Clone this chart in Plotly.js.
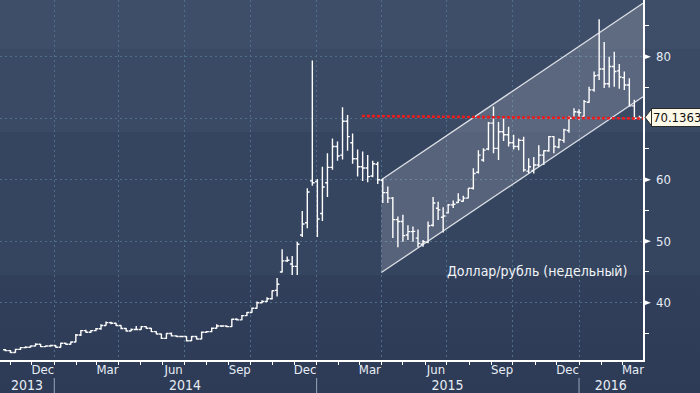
<!DOCTYPE html>
<html><head><meta charset="utf-8">
<script src="https://cdn.plot.ly/plotly-3.0.1.min.js"></script>
<style>
html,body{margin:0;padding:0;width:700px;height:393px;overflow:hidden;}
body{background:linear-gradient(to bottom,#3f4e68 0px,#3f4e68 49px,#3a4964 49px,#3a4964 132px,#35445f 132px,#35445f 275px,#313f5a 275px,#2e3b56 393px);}
#chart{width:700px;height:393px;}
</style></head><body><div id="chart"></div>
<script>
// ---- data (weekly USD/RUB bars) ----
const weekDates = [
'2013-10-25','2013-11-01','2013-11-08','2013-11-15','2013-11-22','2013-11-29','2013-12-06','2013-12-13','2013-12-20','2013-12-27',
'2014-01-03','2014-01-10','2014-01-17','2014-01-24','2014-01-31','2014-02-07','2014-02-14','2014-02-21','2014-02-28','2014-03-07',
'2014-03-14','2014-03-21','2014-03-28','2014-04-04','2014-04-11','2014-04-18','2014-04-25','2014-05-02','2014-05-09','2014-05-16',
'2014-05-23','2014-05-30','2014-06-06','2014-06-13','2014-06-20','2014-06-27','2014-07-04','2014-07-11','2014-07-18','2014-07-25',
'2014-08-01','2014-08-08','2014-08-15','2014-08-22','2014-08-29','2014-09-05','2014-09-12','2014-09-19','2014-09-26','2014-10-03',
'2014-10-10','2014-10-17','2014-10-24','2014-10-31','2014-11-07','2014-11-14','2014-11-21','2014-11-28','2014-12-05','2014-12-12',
'2014-12-19','2014-12-26','2015-01-02','2015-01-09','2015-01-16','2015-01-23','2015-01-30','2015-02-06','2015-02-13','2015-02-20',
'2015-02-27','2015-03-06','2015-03-13','2015-03-20','2015-03-27','2015-04-03','2015-04-10','2015-04-17','2015-04-24','2015-05-01',
'2015-05-08','2015-05-15','2015-05-22','2015-05-29','2015-06-05','2015-06-12','2015-06-19','2015-06-26','2015-07-03','2015-07-10',
'2015-07-17','2015-07-24','2015-07-31','2015-08-07','2015-08-14','2015-08-21','2015-08-28','2015-09-04','2015-09-11','2015-09-18',
'2015-09-25','2015-10-02','2015-10-09','2015-10-16','2015-10-23','2015-10-30','2015-11-06','2015-11-13','2015-11-20','2015-11-27',
'2015-12-04','2015-12-11','2015-12-18','2015-12-25','2016-01-01','2016-01-08','2016-01-15','2016-01-22','2016-01-29','2016-02-05',
'2016-02-12','2016-02-19','2016-02-26','2016-03-04','2016-03-11','2016-03-18','2016-03-25'];
const openVals = [
32.35,32.2,31.9,32.4,32.7,32.75,32.95,33.25,32.85,32.95,
33.05,32.75,33.4,33.25,33.6,34.75,35.45,35.2,35.45,35.75,
36.3,36.75,36.65,36.3,35.8,35.4,35.65,35.65,36.1,35.85,
35.3,34.9,34.2,35.0,34.6,34.5,34.5,33.8,34.5,34.1,
35.2,35.3,35.85,36.2,36.2,36.1,37.3,37.2,37.9,38.4,
39.1,40.0,40.2,40.65,42.0,45.0,46.8,46.3,45.9,51.0,
53.0,59.8,59.7,54.5,59.5,62.0,65.4,64.0,69.5,66.0,
63.4,62.1,61.9,60.6,62.5,59.9,57.9,57.0,53.5,53.2,
51.0,51.55,50.5,49.5,49.8,52.6,55.35,53.9,54.6,55.9,
56.3,56.5,57.0,58.6,61.2,63.2,65.0,69.2,65.1,67.8,
67.3,66.0,65.4,66.4,61.4,61.5,62.4,64.0,64.7,67.0,
65.3,66.4,68.0,70.0,71.0,70.3,72.6,74.6,77.0,78.0,
75.6,78.4,77.7,76.6,75.4,72.0,70.0];
const highVals = [
32.45,32.3,32.5,32.8,32.9,33.05,33.4,33.3,33.05,33.15,
33.1,33.5,33.5,33.7,34.9,35.55,35.6,35.55,35.9,36.5,
36.95,36.9,36.75,36.35,35.9,35.8,36.2,36.2,36.15,35.9,
35.35,34.95,35.05,35.15,34.7,34.6,34.55,34.6,34.55,35.3,
35.4,35.95,36.5,36.35,36.3,37.4,37.45,38.0,38.5,39.2,
40.2,40.4,40.9,42.0,44.0,48.7,47.5,47.6,49.9,54.9,
58.6,79.4,60.1,62.1,64.3,66.7,66.2,71.8,70.5,67.5,
64.9,64.6,64.0,63.1,62.9,60.2,58.9,57.2,54.0,54.3,
52.6,52.4,51.9,50.2,53.2,57.2,56.4,55.5,56.05,56.6,
57.8,57.4,58.6,61.85,64.8,65.1,69.4,71.9,69.4,70.0,
68.6,67.3,66.7,67.0,63.5,63.7,65.6,64.8,67.1,67.1,
66.7,68.3,70.35,71.6,71.45,72.95,75.1,77.6,86.1,82.4,
80.0,80.8,78.8,77.6,76.5,73.0,70.4];
const lowVals = [
32.1,31.8,31.85,32.3,32.6,32.7,32.9,32.8,32.8,32.85,
32.7,32.7,33.15,33.2,33.55,34.6,35.1,35.1,35.35,35.6,
36.25,36.5,36.2,35.7,35.3,35.35,35.6,35.6,35.75,35.25,
34.85,34.1,34.15,34.5,34.4,34.4,33.7,33.75,34.0,34.05,
35.1,35.2,35.8,36.05,36.0,36.05,37.1,37.15,37.85,38.35,
39.05,39.9,40.1,40.5,41.0,44.9,46.6,44.5,44.5,50.7,
52.1,59.0,50.7,53.3,57.2,61.6,63.1,63.3,64.7,62.6,
60.5,59.8,59.6,60.4,59.3,56.2,56.2,50.5,49.0,49.9,
50.2,49.9,49.0,49.1,49.65,52.4,53.45,51.4,54.5,55.4,
56.2,56.4,57.0,58.4,61.0,62.9,64.8,64.3,63.2,66.3,
65.4,64.9,64.8,61.3,61.0,61.0,62.1,62.4,64.55,64.3,
65.1,66.0,67.65,70.0,69.7,70.25,72.5,74.3,76.2,74.9,
75.0,75.1,74.8,74.6,71.9,69.7,69.8];
const closeVals = [
32.2,31.9,32.4,32.7,32.75,32.95,33.25,32.85,32.95,33.05,
32.75,33.4,33.25,33.6,34.75,35.45,35.2,35.45,35.75,36.3,
36.75,36.65,36.3,35.8,35.4,35.65,35.65,36.1,35.85,35.3,
34.9,34.2,35.0,34.6,34.5,34.5,33.8,34.5,34.1,35.2,
35.3,35.85,36.2,36.2,36.1,37.3,37.2,37.9,38.4,39.1,
40.0,40.2,40.65,41.95,43.0,46.8,46.9,45.9,49.5,52.8,
58.0,59.5,53.6,58.8,62.0,65.4,63.85,69.5,67.0,63.4,
62.1,61.9,60.5,62.6,60.0,57.9,57.0,53.5,53.2,50.9,
51.55,51.6,49.65,49.9,52.5,56.2,55.1,54.1,55.9,56.0,
56.7,57.0,58.6,61.0,64.0,64.8,69.2,65.1,67.8,67.3,
66.0,65.4,66.4,61.6,62.1,62.4,64.0,64.7,67.0,65.4,
66.5,68.1,70.0,71.05,70.9,72.7,74.6,76.9,78.0,75.6,
78.4,77.6,76.7,75.4,72.0,70.0,70.1363];

// trend channel and level line
const channelX = ['2015-04-01','2016-03-30'];
const channelUpper = [60.0, 88.7];
const channelLower = [44.9, 73.5];
const levelX = ['2015-03-05','2016-03-30'];
const levelY = [70.35, 69.95];
const lastPrice = 70.1363;
const lastPriceText = '70.1363';
const seriesLabel = 'Доллар/рубль (недельный)';

// axes
const xRange = ['2013-10-17 12:00','2016-03-30'];
const yRange = [30.68, 89.22];
const monthLabelPos = ['2013-12-16','2014-03-16','2014-06-16','2014-09-16','2014-12-16','2015-03-16','2015-06-16','2015-09-16','2015-12-16','2016-03-16'];
const monthLabels = ['Dec','Mar','Jun','Sep','Dec','Mar','Jun','Sep','Dec','Mar'];
const yearLabelPos = ['2013-11-24','2014-07-02','2015-07-02','2016-02-14'];
const yearLabels = ['2013','2014','2015','2016'];
const yearBounds = ['2014-01-01','2015-01-01','2016-01-01'];
const yTickVals = [40,50,60,70,80];
const yTickText = ['40','50','60','','80'];
const yMinorVals = [35,45,55,65,75,85];

const FONT = '"DejaVu Sans Condensed", "Liberation Sans", Arial, sans-serif';
const NARROW = '"Liberation Sans Narrow", "DejaVu Sans Condensed", "Liberation Sans", sans-serif';
const TXT = '#e6edf5';
const GRID = '#4f6e8a';

const traces = [
  {type:'scatter', mode:'lines', x:[channelX[0],channelX[1],channelX[1],channelX[0],channelX[0]],
   y:[channelUpper[0],channelUpper[1],channelLower[1],channelLower[0],channelUpper[0]],
   fill:'toself', fillcolor:'rgba(255,255,255,0.17)', line:{width:0}, hoverinfo:'skip', showlegend:false},
  {type:'scatter', mode:'lines', x:channelX, y:channelUpper, line:{color:'rgba(235,238,243,0.9)', width:1.3}, hoverinfo:'skip', showlegend:false},
  {type:'scatter', mode:'lines', x:channelX, y:channelLower, line:{color:'rgba(235,238,243,0.9)', width:1.3}, hoverinfo:'skip', showlegend:false},
  {type:'ohlc', x:weekDates, open:openVals, high:highVals, low:lowVals, close:closeVals,
   increasing:{line:{color:'#ffffff', width:1.4}}, decreasing:{line:{color:'#ffffff', width:1.4}},
   tickwidth:0.45, hoverinfo:'none', showlegend:false},
  {type:'scatter', mode:'lines', x:levelX, y:levelY, line:{color:'#ee1c1c', width:2.6, dash:'3px,2px'}, hoverinfo:'skip', showlegend:false},
  {type:'scatter', mode:'markers', x:[xRange[0]], y:[null], xaxis:'x2', hoverinfo:'skip', showlegend:false},
  {type:'scatter', mode:'markers', x:[xRange[0]], y:[null], xaxis:'x3', hoverinfo:'skip', showlegend:false},
  {type:'scatter', mode:'markers', x:[xRange[0]], y:[null], xaxis:'x4', hoverinfo:'skip', showlegend:false}
];

const shapes = [];
yTickVals.forEach((v,i)=>{
  if(yTickText[i]==='') return;
  shapes.push({type:'path', xref:'paper', yref:'y', xsizemode:'pixel', ysizemode:'pixel',
    xanchor:1, yanchor:v, path:'M 0 3 L 8 0 L 0 -3 Z', fillcolor:'#ffffff', line:{width:0}, layer:'above'});
});
yearBounds.forEach(d=>{
  shapes.push({type:'line', xref:'x', yref:'paper', x0:d, x1:d, y0:-0.05, y1:-0.095,
    line:{color:'#9aa6b8', width:1}, layer:'above'});
});
shapes.push({type:'path', xref:'paper', yref:'y', xsizemode:'pixel', ysizemode:'pixel',
  xanchor:1, yanchor:lastPrice, path:'M 2 0 L 9 9 L 9 -9 Z', fillcolor:'#fdf9e9',
  line:{color:'#2a2a2a', width:1}, layer:'above'});

const layout = {
  width:700, height:393,
  margin:{l:0, r:57, t:0, b:33, pad:0},
  paper_bgcolor:'rgba(0,0,0,0)', plot_bgcolor:'rgba(0,0,0,0)',
  showlegend:false, hovermode:false, dragmode:false,
  font:{family:FONT, size:13, color:TXT},
  xaxis:{type:'date', range:xRange, rangeslider:{visible:false}, fixedrange:true,
    tickmode:'array', tickvals:monthLabelPos, ticktext:monthLabels, ticks:'', ticklabelstandoff:-3,
    showgrid:false, zeroline:false, showline:true, linecolor:'#ffffff', linewidth:1.5,
    tickfont:{family:FONT, size:13, color:TXT}},
  xaxis2:{type:'date', range:xRange, overlaying:'x', anchor:'y', fixedrange:true,
    tickmode:'linear', tick0:'2014-01-01', dtick:'M3', ticks:'', showticklabels:false,
    showgrid:true, gridcolor:GRID, gridwidth:1, griddash:'2px,3px', zeroline:false, showline:false},
  xaxis3:{type:'date', range:xRange, overlaying:'x', anchor:'y', fixedrange:true,
    tickmode:'linear', tick0:'2013-11-01', dtick:'M1', ticks:'outside', ticklen:4, tickwidth:1, tickcolor:'#ffffff',
    showticklabels:false, showgrid:false, zeroline:false, showline:false},
  xaxis4:{type:'date', range:xRange, overlaying:'x', anchor:'y', fixedrange:true,
    tickmode:'array', tickvals:yearLabelPos, ticktext:yearLabels, ticks:'', ticklabelstandoff:15,
    showgrid:false, zeroline:false, showline:false, tickfont:{family:NARROW, size:14, color:TXT}},
  yaxis:{side:'right', range:yRange, fixedrange:true, tickmode:'array', tickvals:yTickVals, ticktext:yTickText,
    ticks:'', ticklabelstandoff:9, showgrid:true, gridcolor:GRID, gridwidth:1, griddash:'2px,3px',
    zeroline:false, showline:true, linecolor:'#ffffff', linewidth:1.5,
    tickfont:{family:FONT, size:13, color:TXT},
    minor:{tickvals:yMinorVals, ticks:'outside', ticklen:4, tickwidth:1, tickcolor:'#ffffff', showgrid:false}},
  shapes:shapes,
  annotations:[
    {xref:'paper', yref:'y', x:1, y:lastPrice, xanchor:'left', yanchor:'middle', xshift:8,
     text:lastPriceText, showarrow:false, bgcolor:'#fdf9e9', bordercolor:'#2a2a2a', borderwidth:1, borderpad:1,
     font:{family:FONT, size:13, color:'#111111'}},
    {xref:'paper', yref:'paper', x:0.8347, y:0.2472, xanchor:'center', yanchor:'middle',
     text:seriesLabel, showarrow:false, font:{family:FONT, size:14, color:'#f2f5f8'}}
  ]
};

Plotly.newPlot('chart', traces, layout, {displayModeBar:false, staticPlot:true});
</script></body></html>
